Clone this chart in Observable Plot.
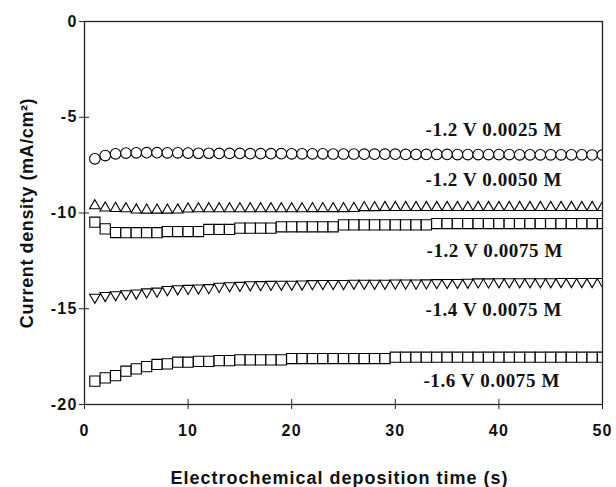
<!DOCTYPE html>
<html><head><meta charset="utf-8">
<script src="https://cdn.jsdelivr.net/npm/d3@7"></script>
<script src="https://cdn.jsdelivr.net/npm/@observablehq/plot@0.6"></script>
<style>
body{margin:0;background:#fff}
</style>
</head><body><div id="chart"></div>
<script>
// Time (s)
const time = [1,2,3,4,5,6,7,8,9,10,11,12,13,14,15,16,17,18,19,20,21,22,23,24,25,26,27,28,29,30,31,32,33,34,35,36,37,38,39,40,41,42,43,44,45,46,47,48,49,50];

// -1.2 V 0.0025 M (circles)
const v12_0025 = [-7.17,-7.00,-6.91,-6.87,-6.86,-6.85,-6.85,-6.86,-6.86,-6.87,-6.88,-6.88,-6.89,-6.89,-6.89,-6.90,-6.90,-6.90,-6.90,-6.91,-6.91,-6.91,-6.91,-6.92,-6.92,-6.92,-6.93,-6.93,-6.93,-6.93,-6.94,-6.94,-6.94,-6.94,-6.94,-6.95,-6.95,-6.95,-6.95,-6.95,-6.95,-6.96,-6.96,-6.96,-6.96,-6.96,-6.96,-6.96,-6.97,-6.97];

// -1.2 V 0.0050 M (up triangles)
const v12_0050 = [-9.62,-9.74,-9.76,-9.78,-9.84,-9.85,-9.85,-9.85,-9.84,-9.79,-9.78,-9.78,-9.78,-9.78,-9.78,-9.78,-9.78,-9.78,-9.78,-9.78,-9.78,-9.77,-9.77,-9.77,-9.77,-9.76,-9.72,-9.72,-9.71,-9.71,-9.71,-9.71,-9.71,-9.71,-9.71,-9.71,-9.71,-9.71,-9.71,-9.71,-9.71,-9.71,-9.71,-9.71,-9.71,-9.71,-9.71,-9.71,-9.71,-9.71];

// -1.2 V 0.0075 M (squares)
const v12_0075 = [-10.48,-10.83,-11.02,-11.03,-11.03,-11.03,-11.03,-10.97,-10.97,-10.97,-10.97,-10.86,-10.86,-10.86,-10.79,-10.79,-10.79,-10.79,-10.72,-10.72,-10.72,-10.72,-10.72,-10.72,-10.62,-10.62,-10.62,-10.62,-10.62,-10.62,-10.62,-10.62,-10.62,-10.55,-10.55,-10.55,-10.55,-10.55,-10.55,-10.55,-10.55,-10.55,-10.55,-10.55,-10.55,-10.55,-10.55,-10.55,-10.55,-10.55];

// -1.4 V 0.0075 M (down triangles)
const v14_0075 = [-14.40,-14.31,-14.27,-14.22,-14.18,-14.12,-14.08,-14.00,-13.96,-13.94,-13.92,-13.90,-13.83,-13.80,-13.78,-13.75,-13.74,-13.73,-13.72,-13.72,-13.71,-13.69,-13.68,-13.68,-13.68,-13.67,-13.67,-13.67,-13.67,-13.66,-13.66,-13.66,-13.65,-13.64,-13.63,-13.63,-13.62,-13.60,-13.60,-13.59,-13.59,-13.59,-13.59,-13.59,-13.59,-13.58,-13.58,-13.58,-13.58,-13.58];

// -1.6 V 0.0075 M (squares)
const v16_0075 = [-18.78,-18.61,-18.49,-18.26,-18.14,-18.02,-17.91,-17.88,-17.79,-17.79,-17.75,-17.75,-17.71,-17.71,-17.67,-17.67,-17.67,-17.67,-17.67,-17.60,-17.60,-17.60,-17.60,-17.60,-17.60,-17.60,-17.60,-17.60,-17.60,-17.53,-17.53,-17.53,-17.53,-17.53,-17.53,-17.53,-17.53,-17.53,-17.53,-17.53,-17.53,-17.53,-17.53,-17.53,-17.53,-17.53,-17.53,-17.53,-17.53,-17.53];

// Series labels and their anchor positions (data units)
const labelText = ["-1.2 V 0.0025 M","-1.2 V 0.0050 M","-1.2 V 0.0075 M","-1.4 V 0.0075 M","-1.6 V 0.0075 M"];
const labelX = [39.5, 39.5, 39.6, 39.5, 39.3];
const labelY = [-5.65, -8.26, -11.98, -15.04, -18.75];

const xTicks = [0,10,20,30,40,50];
const yTicks = [0,-5,-10,-15,-20];
const xTitle = "Electrochemical deposition time (s)";
const yTitle = "Current density (mA/cm\u00B2)";

const rowsOf = v => v.map((j, i) => ({t: time[i], j}));

const dotStyle = {x: "t", y: "j", stroke: "#000", fill: "#fff", strokeWidth: 1.1, clip: true};
const sans = "'Liberation Sans', Arial, sans-serif";
const fmt = d => String(d);

const chart = Plot.plot({
  width: 616, height: 487,
  marginTop: 21, marginBottom: 83, marginLeft: 84, marginRight: 14,
  x: {domain: [0, 50]},
  y: {domain: [-20, 0]},
  style: {fontFamily: sans, background: "#fff", color: "#111"},
  marks: [
    Plot.dot(rowsOf(v12_0025), {...dotStyle, symbol: "circle", r: 5.3}),
    Plot.dot(rowsOf(v12_0050), {...dotStyle, symbol: "triangle", r: 3.9}),
    Plot.dot(rowsOf(v12_0075), {...dotStyle, symbol: "square", r: 5.75}),
    Plot.dot(rowsOf(v14_0075), {...dotStyle, symbol: "triangle", r: 3.9, rotate: 180}),
    Plot.dot(rowsOf(v16_0075), {...dotStyle, symbol: "square", r: 5.75}),
    Plot.frame({stroke: "#222", strokeWidth: 1.3}),
    Plot.axisY({ticks: yTicks, tickSize: 5, tickPadding: 2, tickFormat: fmt, fontSize: 16, fontWeight: "bold", label: null, stroke: "#222"}),
    Plot.axisY({ticks: yTicks, tickSize: 5, dx: 5, tickFormat: () => "", label: null, stroke: "#222"}),
    Plot.axisX({ticks: xTicks, tickSize: 5, tickPadding: 15, tickFormat: fmt, fontSize: 16, fontWeight: "bold", label: null, stroke: "#222"}),
    Plot.axisX({ticks: xTicks, tickSize: 5, dy: -5, tickFormat: () => "", label: null, stroke: "#222"}),
    Plot.text(labelText, {x: labelX, y: labelY, text: d => d, fontFamily: "'Liberation Serif', 'Times New Roman', serif", fontWeight: "bold", fontSize: 19, fill: "#111"}),
    Plot.text([xTitle], {frameAnchor: "bottom", lineAnchor: "middle", textAnchor: "middle", dy: 74, dx: -4, text: d => d, fontSize: 18, fontWeight: "bold", fill: "#111"}),
    Plot.text([yTitle], {frameAnchor: "left", lineAnchor: "middle", textAnchor: "middle", dx: -57, rotate: -90, text: d => d, fontSize: 18, fontWeight: "bold", fill: "#111"})
  ]
});
document.getElementById("chart").appendChild(chart);

// letter spacing to mimic the original typesetting
const spacing = new Map([
  ...labelText.map(t => [t, "0.6px"]),
  [xTitle, "1px"],
  [yTitle, "0.6px"],
  ...xTicks.map(t => [String(t), "1.2px"]),
  ...yTicks.map(t => [String(t), "1.2px"])
]);
d3.select(chart).selectAll("text").each(function() {
  const s = spacing.get(this.textContent);
  if (s) this.style.letterSpacing = s;
});
</script>
</body></html>
